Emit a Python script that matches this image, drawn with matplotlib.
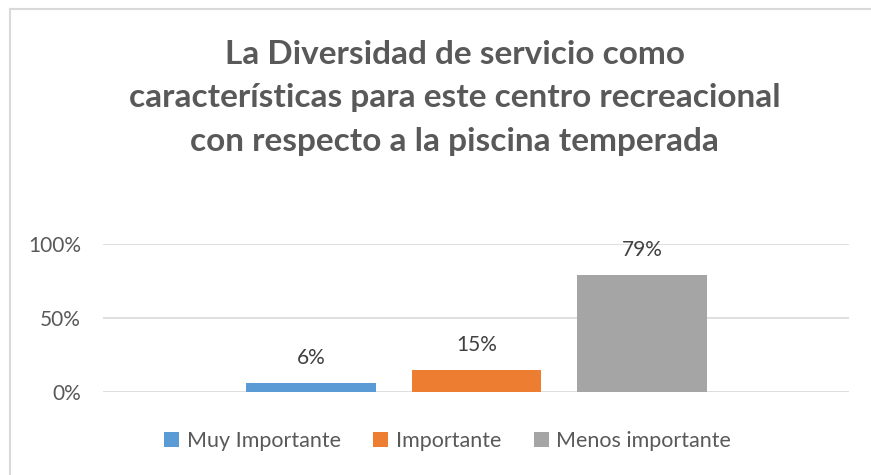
import matplotlib
matplotlib.use("Agg")
import matplotlib.pyplot as plt
from matplotlib.lines import Line2D
from matplotlib.patches import Patch

categories = ["Muy Importante", "Importante", "Menos importante"]
values = [0.06, 0.15, 0.79]
labels = ["6%", "15%", "79%"]
colors = ["#5B9BD5", "#ED7D31", "#A5A5A5"]
yticks = [0, 0.5, 1.0]
yticklabels = ["0%", "50%", "100%"]

plt.rcParams["font.family"] = ["Lato", "DejaVu Sans"]

fig = plt.figure(figsize=(8.71, 4.75), dpi=100, facecolor="white")
ax = fig.add_axes([103 / 871, 83 / 475, 746 / 871, 148 / 475])

x = list(range(len(categories)))
ax.bar(x, values, width=0.785, color=colors, zorder=3)
for xi, v, lab in zip(x, values, labels):
    ax.text(xi, v + 0.1, lab, ha="center", va="bottom", fontsize=15,
            color="#404040", clip_on=False)

ax.set_xlim(-1.257, 3.251)
ax.set_ylim(0, 1.0)
ax.set_yticks(yticks)
ax.set_yticklabels(yticklabels, fontsize=15, color="#595959")
ax.set_xticks([])
ax.tick_params(axis="y", length=0, pad=16)
ax.grid(axis="y", color="#D9D9D9", linewidth=1.2, zorder=0)
for s in ax.spines.values():
    s.set_visible(False)

fig.text(0.522, 0.794, "La Diversidad de servicio como\ncaracterísticas para este centro recreacional\ncon respecto a la piscina temperada",
         ha="center", va="center", fontsize=24, fontweight="bold", color="#595959",
         linespacing=1.6)

handles = [Patch(facecolor=c, edgecolor="none") for c in colors]
fig.legend(handles, categories, loc="center", bbox_to_anchor=(0.514, 0.072), ncol=3,
           frameon=False, fontsize=15.5, labelcolor="#595959", handlelength=0.7,
           handleheight=0.7, handletextpad=0.35, columnspacing=1.5)

# chart border (left and top)
fig.add_artist(Line2D([10 / 871, 10 / 871], [0, 1 - 9 / 475], transform=fig.transFigure, color="#D9D9D9", lw=1.5))
fig.add_artist(Line2D([10 / 871, 1], [1 - 9 / 475, 1 - 9 / 475], transform=fig.transFigure, color="#D9D9D9", lw=1.5))

fig.savefig("out.png", dpi=100, facecolor="white")
